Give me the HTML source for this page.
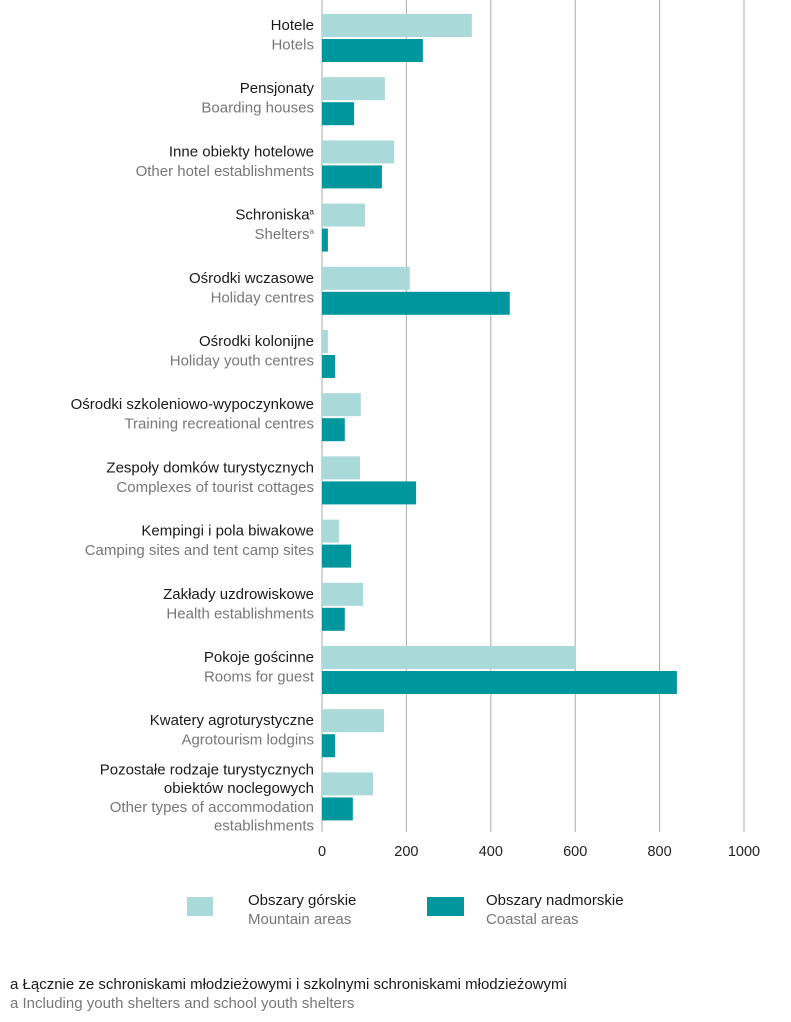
<!DOCTYPE html>
<html><head><meta charset="utf-8"><style>
body{margin:0;background:#fff;width:791px;height:1017px;overflow:hidden}
svg{font-family:"Liberation Sans",sans-serif}
</style></head><body>
<svg id="chart" width="791" height="1017" xmlns="http://www.w3.org/2000/svg"></svg>
<script>
const categoriesPl=["Hotele","Pensjonaty","Inne obiekty hotelowe","Schroniska","Ośrodki wczasowe","Ośrodki kolonijne","Ośrodki szkoleniowo-wypoczynkowe","Zespoły domków turystycznych","Kempingi i pola biwakowe","Zakłady uzdrowiskowe","Pokoje gościnne","Kwatery agroturystyczne","Pozostałe rodzaje turystycznych|obiektów noclegowych"];
const categoriesEn=["Hotels","Boarding houses","Other hotel establishments","Shelters","Holiday centres","Holiday youth centres","Training recreational  centres","Complexes of tourist cottages","Camping sites and tent camp sites","Health establishments","Rooms for guest","Agrotourism lodgins","Other types of accommodation|establishments"];
const mountain=[355,149,171,102,208,14,92,90,40,97,600,147,121];
const coastal=[239,76,142,14,445,31,54,223,69,54,841,31,73];
const ticks=[0,200,400,600,800,1000];
const svg=document.getElementById('chart');
const NS="http://www.w3.org/2000/svg";
const x0=322,x1=744,xs=v=>x0+(x1-x0)*v/1000;
const rowY=i=>14+i*63.2;
function el(t,a,txt){const e=document.createElementNS(NS,t);for(const k in a)e.setAttribute(k,a[k]);if(txt!==undefined)e.textContent=txt;svg.appendChild(e);return e;}
ticks.forEach(t=>{
 const g=el('line',{x1:xs(t),x2:xs(t),y1:0,y2:832,stroke:'#aaa','stroke-width':1});
 
 
 const l=el('text',{x:xs(t),y:856,'text-anchor':'middle','font-size':14.5,fill:'#222'},t);
 
 
});
mountain.forEach((v,i)=>{
 const y=rowY(i);
 const b=el('rect',{x:x0,y:y,width:xs(v)-x0,height:23,fill:'#a9dad9'});
 
 
 const c=el('rect',{x:x0,y:y+25,width:xs(coastal[i])-x0,height:23,fill:'#00969d'});
 
 
 const pl=categoriesPl[i].split('|'),en=categoriesEn[i].split('|');
 let lines=[];pl.forEach(s=>lines.push([s,'#1a1a1a']));en.forEach(s=>lines.push([s,'#777']));
 const start=lines.length>2?y+2:y+16;
 const step=lines.length>2?18.7:19.5;
 lines.forEach((ln,j)=>{
  const t=el('text',{x:314,y:start+j*step,'text-anchor':'end','font-size':15,fill:ln[1]},ln[0]);
  
  
  if(i===3){const s=el('tspan',{'font-size':8,dy:-5},'a');t.appendChild(s);}
 });
});
</script>
<div style="position:absolute;left:0;top:0;width:791px;height:1017px;font-family:'Liberation Sans',sans-serif;pointer-events:none">
 <div style="position:absolute;left:187px;top:897px;width:26px;height:19px;background:#a9dad9"></div>
 <div style="position:absolute;left:248px;top:891px;font-size:15px;line-height:19px;color:#1a1a1a">Obszary górskie<br><span style="color:#777">Mountain areas</span></div>
 <div style="position:absolute;left:427px;top:897px;width:37px;height:19px;background:#00969d"></div>
 <div style="position:absolute;left:486px;top:891px;font-size:15px;line-height:19px;color:#1a1a1a">Obszary nadmorskie<br><span style="color:#777">Coastal areas</span></div>
 <div style="position:absolute;left:10px;top:975px;font-size:15px;line-height:19px;color:#1a1a1a">a Łącznie ze schroniskami młodzieżowymi i szkolnymi schroniskami młodzieżowymi<br><span style="color:#777">a Including youth shelters and school youth shelters</span></div>
</div>
</body></html>
